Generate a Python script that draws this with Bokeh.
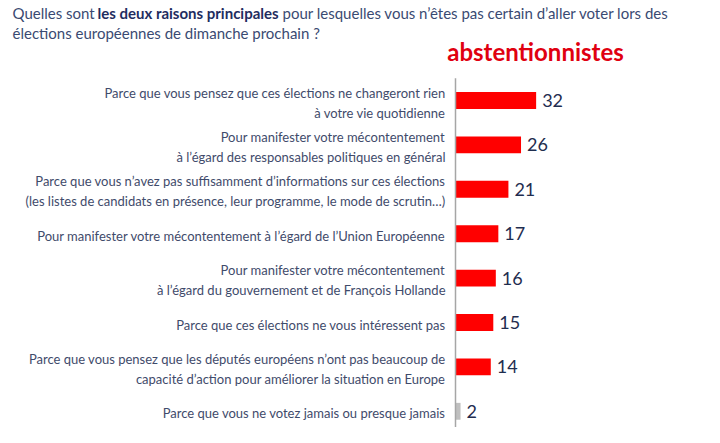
from bokeh.plotting import figure
from bokeh.models import Range1d, ColumnDataSource
from bokeh.core.properties import value
from bokeh.embed import file_html
from bokeh.resources import INLINE

categories = [
    "Parce que vous pensez que ces élections ne changeront rien\nà votre vie quotidienne",
    "Pour manifester votre mécontentement\nà l’égard des responsables politiques en général",
    "Parce que vous n’avez pas suffisamment d’informations sur ces élections\n(les listes de candidats en présence, leur programme, le mode de scrutin…)",
    "Pour manifester votre mécontentement à l’égard de l’Union Européenne",
    "Pour manifester votre mécontentement\nà l’égard du gouvernement et de François Hollande",
    "Parce que ces élections ne vous intéressent pas",
    "Parce que vous pensez que les députés européens n’ont pas beaucoup de\ncapacité d’action pour améliorer la situation en Europe",
    "Parce que vous ne votez jamais ou presque jamais",
]
values = [32, 26, 21, 17, 16, 15, 14, 2]
bar_colors = ["#ff0000"] * 7 + ["#bfbfbf"]
series_name = "abstentionnistes"
title_parts = ["Quelles sont ", "les deux raisons principales",
               " pour lesquelles vous n’êtes pas certain d’aller voter lors des"]
title_line2 = "élections européennes  de dimanche prochain ?"

W, H = 704, 427
AXIS_X = 455          # canvas px of the value axis
PX_PER_UNIT = 2.52
ROW0 = 100            # canvas px of first category centre
ROW = 44.4

x0 = -AXIS_X / PX_PER_UNIT
x1 = x0 + W / PX_PER_UNIT
y_top = -ROW0 / ROW
y_bot = (H - ROW0) / ROW

def px(xp):  # canvas px -> data x
    return (xp - AXIS_X) / PX_PER_UNIT

def py(yp):  # canvas px -> data y
    return (yp - ROW0) / ROW

p = figure(width=W, height=H, output_backend="svg", toolbar_location=None,
           x_range=Range1d(x0, x1), y_range=Range1d(y_bot, y_top),
           min_border=0, outline_line_color=None)
p.axis.visible = False
p.grid.visible = False
p.background_fill_color = "white"
p.border_fill_color = "white"

idx = list(range(len(categories)))
src = ColumnDataSource(dict(y=idx, v=values, c=bar_colors, cat=categories,
                            lbl=[str(v) for v in values]))

p.hbar(y="y", left=0, right="v", height=0.38, fill_color="c", line_color=None, source=src)
p.segment(x0=[0], y0=[-0.5], x1=[0], y1=[len(categories) - 0.5],
          line_color="#a6a6a6", line_width=1.5)

label_font = value("Lato")
p.text(x=0, y="y", text="cat", source=src, x_offset=-10, y_offset=2,
       text_align="right", text_baseline="middle", text_font=label_font,
       text_font_size="13px", text_color="#3f4b6b", text_line_height=1.25)
p.text(x="v", y="y", text="lbl", source=src, x_offset=6,
       text_align="left", text_baseline="middle", text_font=label_font,
       text_font_size="18px", text_color="#1f2d4f")

# Title
tcol = "#3a4a72"
p.text(x=[px(12)], y=[py(12)], text=[title_parts[0]], text_align="left", text_baseline="middle",
       text_font=label_font, text_font_size="15px", text_color=tcol)
p.text(x=[px(97)], y=[py(12)], text=[title_parts[1]], text_align="left", text_baseline="middle",
       text_font=label_font, text_font_size="15px", text_color="#1f2d5f", text_font_style="bold")
p.text(x=[px(282)], y=[py(12)], text=[title_parts[2]], text_align="left", text_baseline="middle",
       text_font=label_font, text_font_size="15px", text_color=tcol)
p.text(x=[px(12)], y=[py(32)], text=[title_line2], text_align="left", text_baseline="middle",
       text_font=label_font, text_font_size="15px", text_color=tcol)

p.text(x=[px(535)], y=[py(51)], text=[series_name], text_align="center", text_baseline="middle",
       text_font=label_font, text_font_size="24px", text_color="#e00010", text_font_style="bold")

open("out.html", "w").write(file_html(p, INLINE))
